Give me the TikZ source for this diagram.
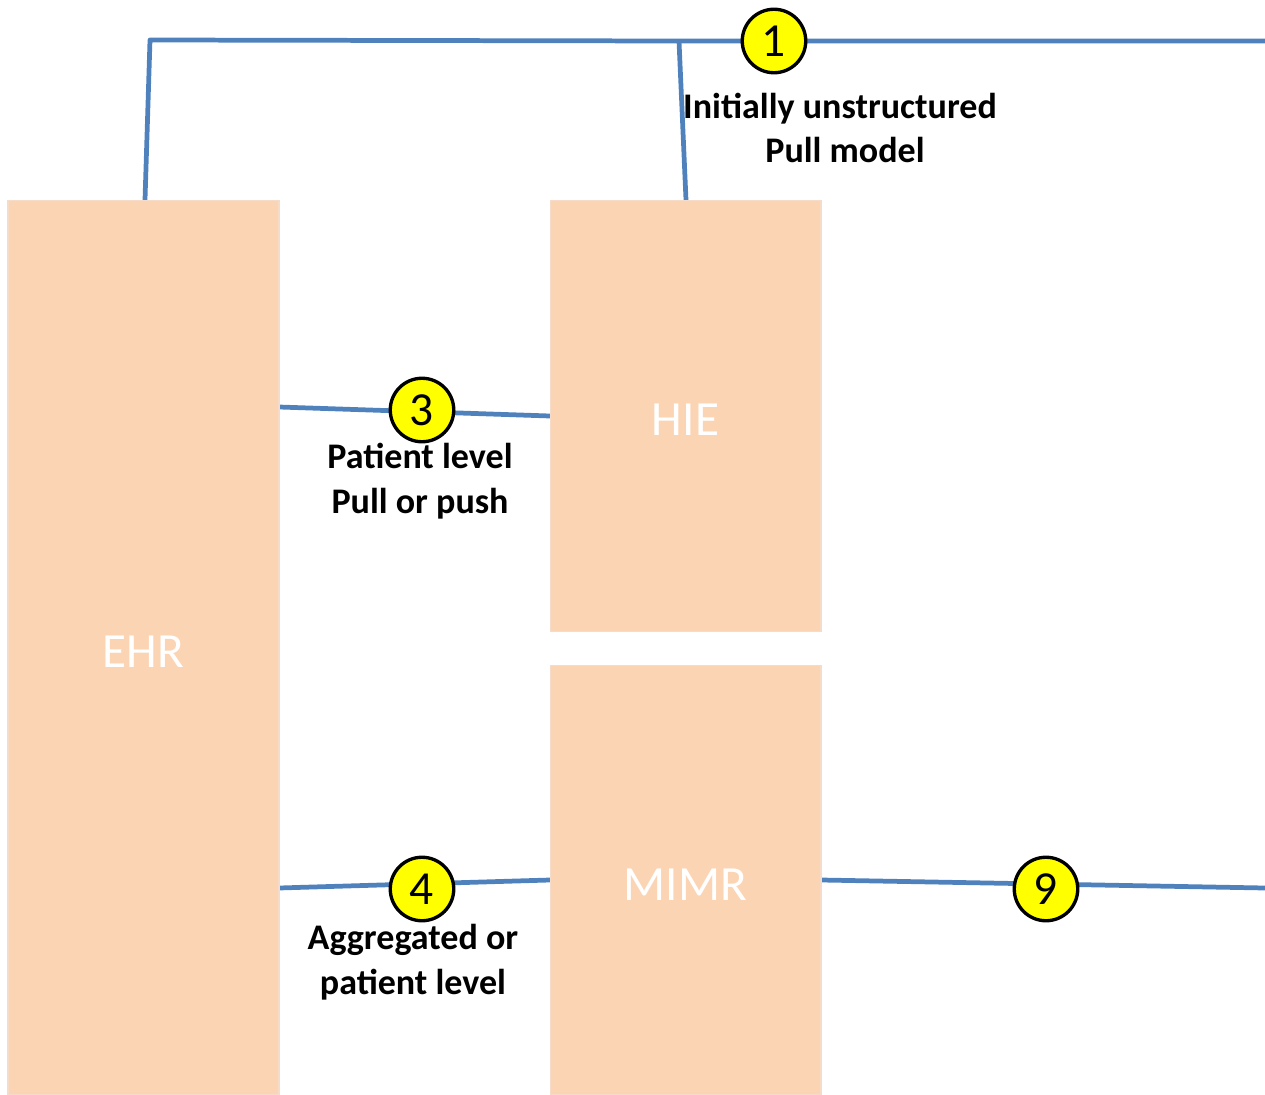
\documentclass[tikz,border=0pt]{standalone}
\usepackage{fontspec}
\setmainfont{Carlito}
\usetikzlibrary{backgrounds}
\definecolor{peach}{HTML}{FBD4B4}
\definecolor{peachedge}{HTML}{F6DCC8}
\definecolor{linkblue}{HTML}{4F81BD}
\definecolor{marker}{HTML}{FFFF00}
\newcommand{\boxlabel}[1]{\raisebox{-0.40cm}[0pt][0pt]{#1}}
\tikzset{
  sysbox/.style={draw=peachedge, line width=0.6pt, fill=peach, minimum width=5.42cm, inner sep=0pt,
    text=white, font=\fontsize{28}{32}\selectfont},
  link/.style={draw=linkblue, line width=2.7pt, line join=round},
  numdot/.style={circle, draw=black, line width=1.9pt, fill=marker, minimum size=1.27cm, inner sep=0pt,
    font=\fontsize{27}{28}\selectfont},
  caption/.style={align=center, font=\bfseries\fontsize{20.5}{25.5}\selectfont, inner sep=0pt}
}
\begin{document}
\begin{tikzpicture}[x=0.02cm,y=-0.02cm]
\useasboundingbox (0,0) rectangle (1265,1095);
\clip (0,0) rectangle (1265,1095);
% boxes
\node[sysbox, minimum height=17.9cm] (ehr) at (143.5,647.5) {\boxlabel{EHR}};
\node[sysbox, minimum height=8.64cm] (hie) at (685.5,416) {\boxlabel{HIE}};
\node[sysbox, minimum height=8.6cm] (mimr) at (685.5,880) {\boxlabel{MIMR}};
% free ends and corners
\coordinate (ehrtop) at (145,200);
\coordinate (corner) at (150,40);
\coordinate (hietop) at (686,200);
\coordinate (join) at (679,41);
\coordinate (rightend1) at (1265,41);
\coordinate (ehr3) at (279,407);
\coordinate (hie3) at (550,416);
\coordinate (ehr4) at (279,888);
\coordinate (mimr4) at (550,880);
\coordinate (mimr9) at (821,880);
\coordinate (rightend9) at (1265,888);
\begin{pgfonlayer}{background}
\draw[link] (ehrtop) -- (corner) -- (join) -- (rightend1);
\draw[link] (hietop) -- (join);
\draw[link] (ehr3) -- (hie3);
\draw[link] (ehr4) -- (mimr4);
\draw[link] (mimr9) -- (rightend9);
\end{pgfonlayer}
% markers
\node[numdot] (m1) at (774,41) {1};
\node[numdot] (m3) at (422,410) {3};
\node[numdot] (m4) at (422,889) {4};
\node[numdot] (m9) at (1046,889) {9};
% captions
\node[caption] (c1) at (840,128) {Initially unstructured\\\hspace*{0.2cm}Pull model};
\node[caption] (c3) at (420,481) {Patient level\\Pull or push};
\node[caption] (c4) at (413,962) {Aggregated or\\patient level};
\end{tikzpicture}
\end{document}
